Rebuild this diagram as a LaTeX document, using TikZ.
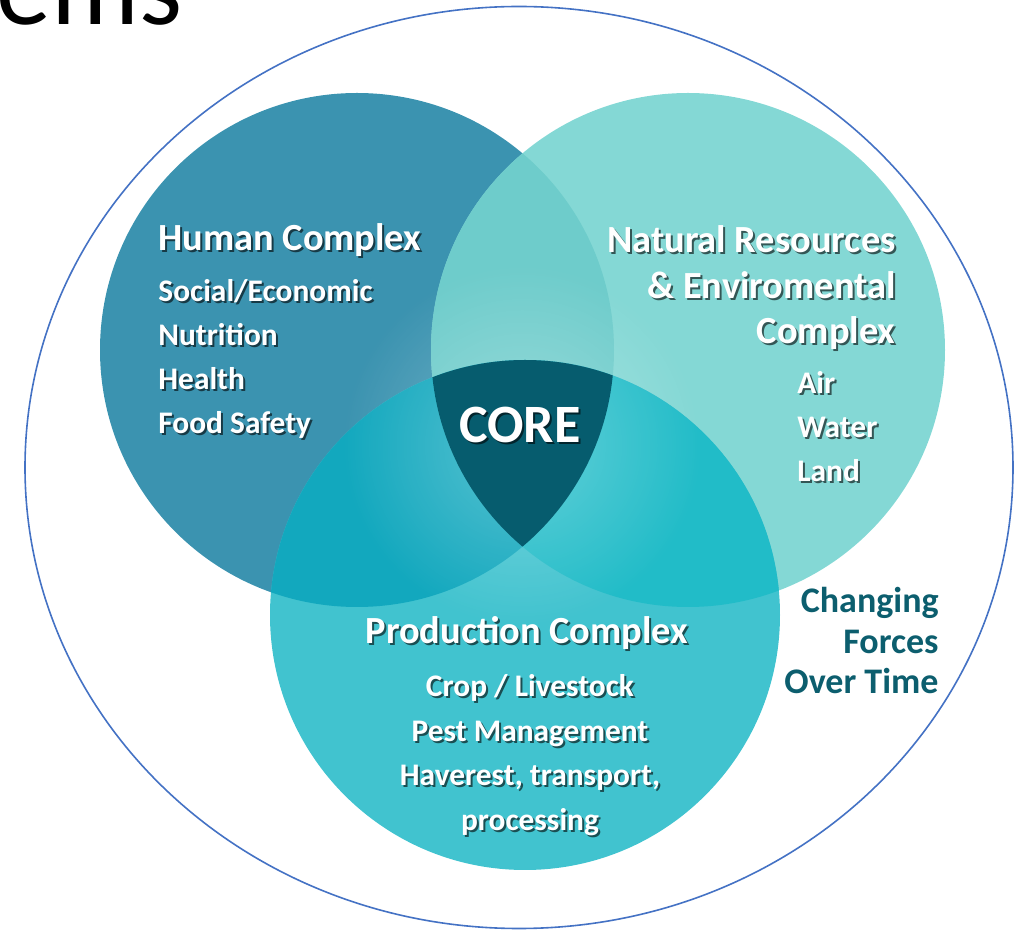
\documentclass[tikz,border=0pt]{standalone}
\usepackage{fontspec}
\setmainfont{Carlito}
\usetikzlibrary{fadings}
\definecolor{humanc}{RGB}{59,147,176}
\definecolor{natc}{RGB}{132,216,213}
\definecolor{prodc}{RGB}{65,195,207}
\definecolor{hnc}{RGB}{110,204,203}
\definecolor{hpc}{RGB}{18,168,190}
\definecolor{npc}{RGB}{33,188,200}
\definecolor{corec}{RGB}{6,92,110}
\definecolor{ringc}{RGB}{68,114,196}
\definecolor{forcec}{RGB}{12,94,110}
\tikzfading[name=glowfade, inner color=transparent!0, outer color=transparent!100]
\newcommand\lab[6]{%
  \node[shd,anchor=#2,font=#5] (#1s) at (#3+2,#4+2) {#6};
  \node[lbl,anchor=#2,font=#5] (#1) at (#3,#4) {#6};}
\begin{document}
\begin{tikzpicture}[x=0.5pt,y=-0.5pt,
  lbl/.style={text=white, inner sep=0pt},
  shd/.style={text=black, text opacity=0.6, inner sep=0pt},
]
\useasboundingbox (0,0) rectangle (1025,930);
\def\fbig{\fontsize{19.2pt}{22pt}\bfseries\selectfont}
\def\fsmall{\fontsize{15.7pt}{19pt}\bfseries\selectfont}
\def\fforce{\fontsize{18pt}{21pt}\bfseries\selectfont}
\begin{scope}
\clip (0,0) rectangle (1025,930);
% title fragment
\node[font=\fontsize{55pt}{60pt}\selectfont, anchor=base west, inner sep=0pt, text=black] (title) at (-4,25) {ems};
% outer ring
\draw[ringc, line width=0.8pt] (519,467.5) ellipse [x radius=247pt, y radius=230.5pt];
% circles
\coordinate (H) at (357,350);
\coordinate (N) at (688,350);
\coordinate (P) at (525,615);
\fill[humanc] (H) circle (128.5pt);
\fill[natc] (N) circle (128.5pt);
\fill[prodc] (P) circle (127.5pt);
\begin{scope}
  \clip (H) circle (128.5pt);
  \fill[hnc] (N) circle (128.5pt);
\end{scope}
\begin{scope}
  \clip (H) circle (128.5pt);
  \fill[hpc] (P) circle (127.5pt);
\end{scope}
\begin{scope}
  \clip (N) circle (128.5pt);
  \fill[npc] (P) circle (127.5pt);
\end{scope}
% glow around core
\fill[white, opacity=0.3, path fading=glowfade] (522,445) circle (90pt);
% core
\begin{scope}
  \clip (H) circle (128.5pt);
  \clip (N) circle (128.5pt);
  \fill[corec] (P) circle (127.5pt);
\end{scope}
% Human complex
\lab{hc}{base west}{158}{251}{\fbig}{Human Complex}
\lab{h1}{base west}{158}{302}{\fsmall}{Social/Economic}
\lab{h2}{base west}{158}{346}{\fsmall}{Nutrition}
\lab{h3}{base west}{158}{390}{\fsmall}{Health}
\lab{h4}{base west}{158}{434}{\fsmall}{Food Safety}
% Natural resources
\lab{nc1}{base east}{896}{253}{\fbig}{Natural Resources}
\lab{nc2}{base east}{896}{299}{\fbig}{\& Enviromental}
\lab{nc3}{base east}{896}{344}{\fbig}{Complex}
\lab{n1}{base west}{797}{394}{\fsmall}{Air}
\lab{n2}{base west}{797}{438}{\fsmall}{Water}
\lab{n3}{base west}{797}{482}{\fsmall}{Land}
% Core
\lab{core}{base}{520}{443}{\fontsize{27pt}{30pt}\bfseries\selectfont}{CORE}
% Production
\lab{pc}{base}{527}{644}{\fbig}{Production Complex}
\lab{p1}{base}{530}{697}{\fsmall}{Crop / Livestock}
\lab{p2}{base}{530}{742}{\fsmall}{Pest Management}
\lab{p3}{base}{530}{786}{\fsmall}{Haverest, transport,}
\lab{p4}{base}{530}{831}{\fsmall}{processing}
% Changing forces
\node[anchor=base east, inner sep=0pt, text=forcec, font=\fforce] (f1) at (939,613) {Changing};
\node[anchor=base east, inner sep=0pt, text=forcec, font=\fforce] (f2) at (939,654) {Forces};
\node[anchor=base east, inner sep=0pt, text=forcec, font=\fforce] (f3) at (939,694) {Over Time};
\end{scope}
\end{tikzpicture}
\end{document}
